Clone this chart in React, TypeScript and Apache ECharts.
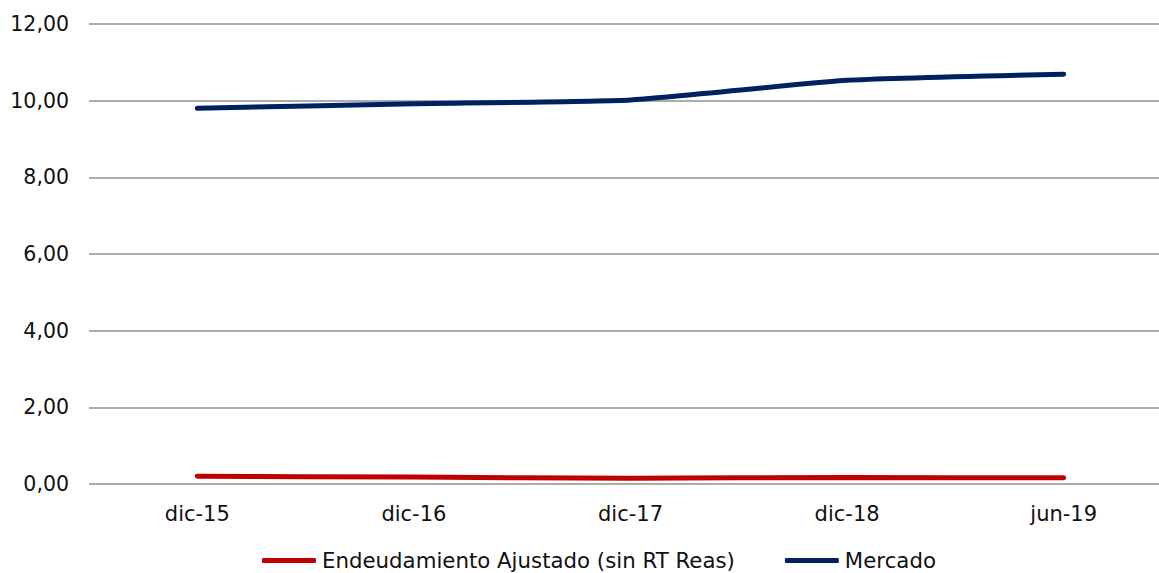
import React, { useEffect, useRef } from "react";
import * as echarts from "echarts";

const categories = ["dic-15", "dic-16", "dic-17", "dic-18", "jun-19"];
const endeudamiento = [0.2, 0.18, 0.15, 0.17, 0.16];
const mercado = [9.8, 9.92, 10.02, 10.53, 10.69];
const seriesNames = ["Endeudamiento Ajustado (sin RT Reas)", "Mercado"];
const yTicks = { min: 0, max: 12, interval: 2 };

const FONT = "'DejaVu Sans', Verdana, sans-serif";

export default function App() {
  const ref = useRef<HTMLDivElement>(null);
  useEffect(() => {
    if (!ref.current) return;
    const chart = echarts.init(ref.current, undefined, { renderer: "svg" });
    chart.setOption({
      animation: false,
      backgroundColor: "#ffffff",
      grid: { left: 89, right: 0, top: 24, bottom: 89, containLabel: false },
      legend: {
        left: 257,
        top: 545,
        itemWidth: 54,
        itemHeight: 5,
        itemGap: 50,
        icon: "roundRect",
        textStyle: { fontFamily: FONT, fontSize: 21.3, color: "#111111", padding: [0, 0, 0, 1] },
        data: seriesNames,
      },
      xAxis: {
        type: "category",
        data: categories,
        boundaryGap: true,
        axisLine: { show: false },
        axisTick: { show: false },
        axisLabel: { fontFamily: FONT, fontSize: 21, color: "#111111", margin: 19 },
        splitLine: { show: false },
      },
      yAxis: {
        type: "value",
        min: yTicks.min,
        max: yTicks.max,
        interval: yTicks.interval,
        axisLine: { show: false },
        axisTick: { show: false },
        axisLabel: {
          fontFamily: FONT,
          fontSize: 20.5,
          color: "#111111",
          margin: 20,
          formatter: (v: number) => v.toFixed(2).replace(".", ","),
        },
        splitLine: { show: true, lineStyle: { color: "#8f8f8f", width: 1.6 } },
      },
      series: [
        {
          name: seriesNames[0],
          type: "line",
          data: endeudamiento,
          smooth: 0.15,
          symbol: "none",
          itemStyle: { color: "#c00000" },
          lineStyle: { color: "#c00000", width: 5, cap: "round" },
        },
        {
          name: seriesNames[1],
          type: "line",
          data: mercado,
          smooth: 0.15,
          symbol: "none",
          itemStyle: { color: "#002060" },
          lineStyle: { color: "#002060", width: 5, cap: "round" },
        },
      ],
    });
    return () => chart.dispose();
  }, []);
  return (
    <div
      style={{ position: "absolute", left: 0, top: 0, width: 1159, height: 573, overflow: "hidden", background: "#fff" }}
    >
      <div ref={ref} style={{ width: 1172, height: 573 }} />
    </div>
  );
}
